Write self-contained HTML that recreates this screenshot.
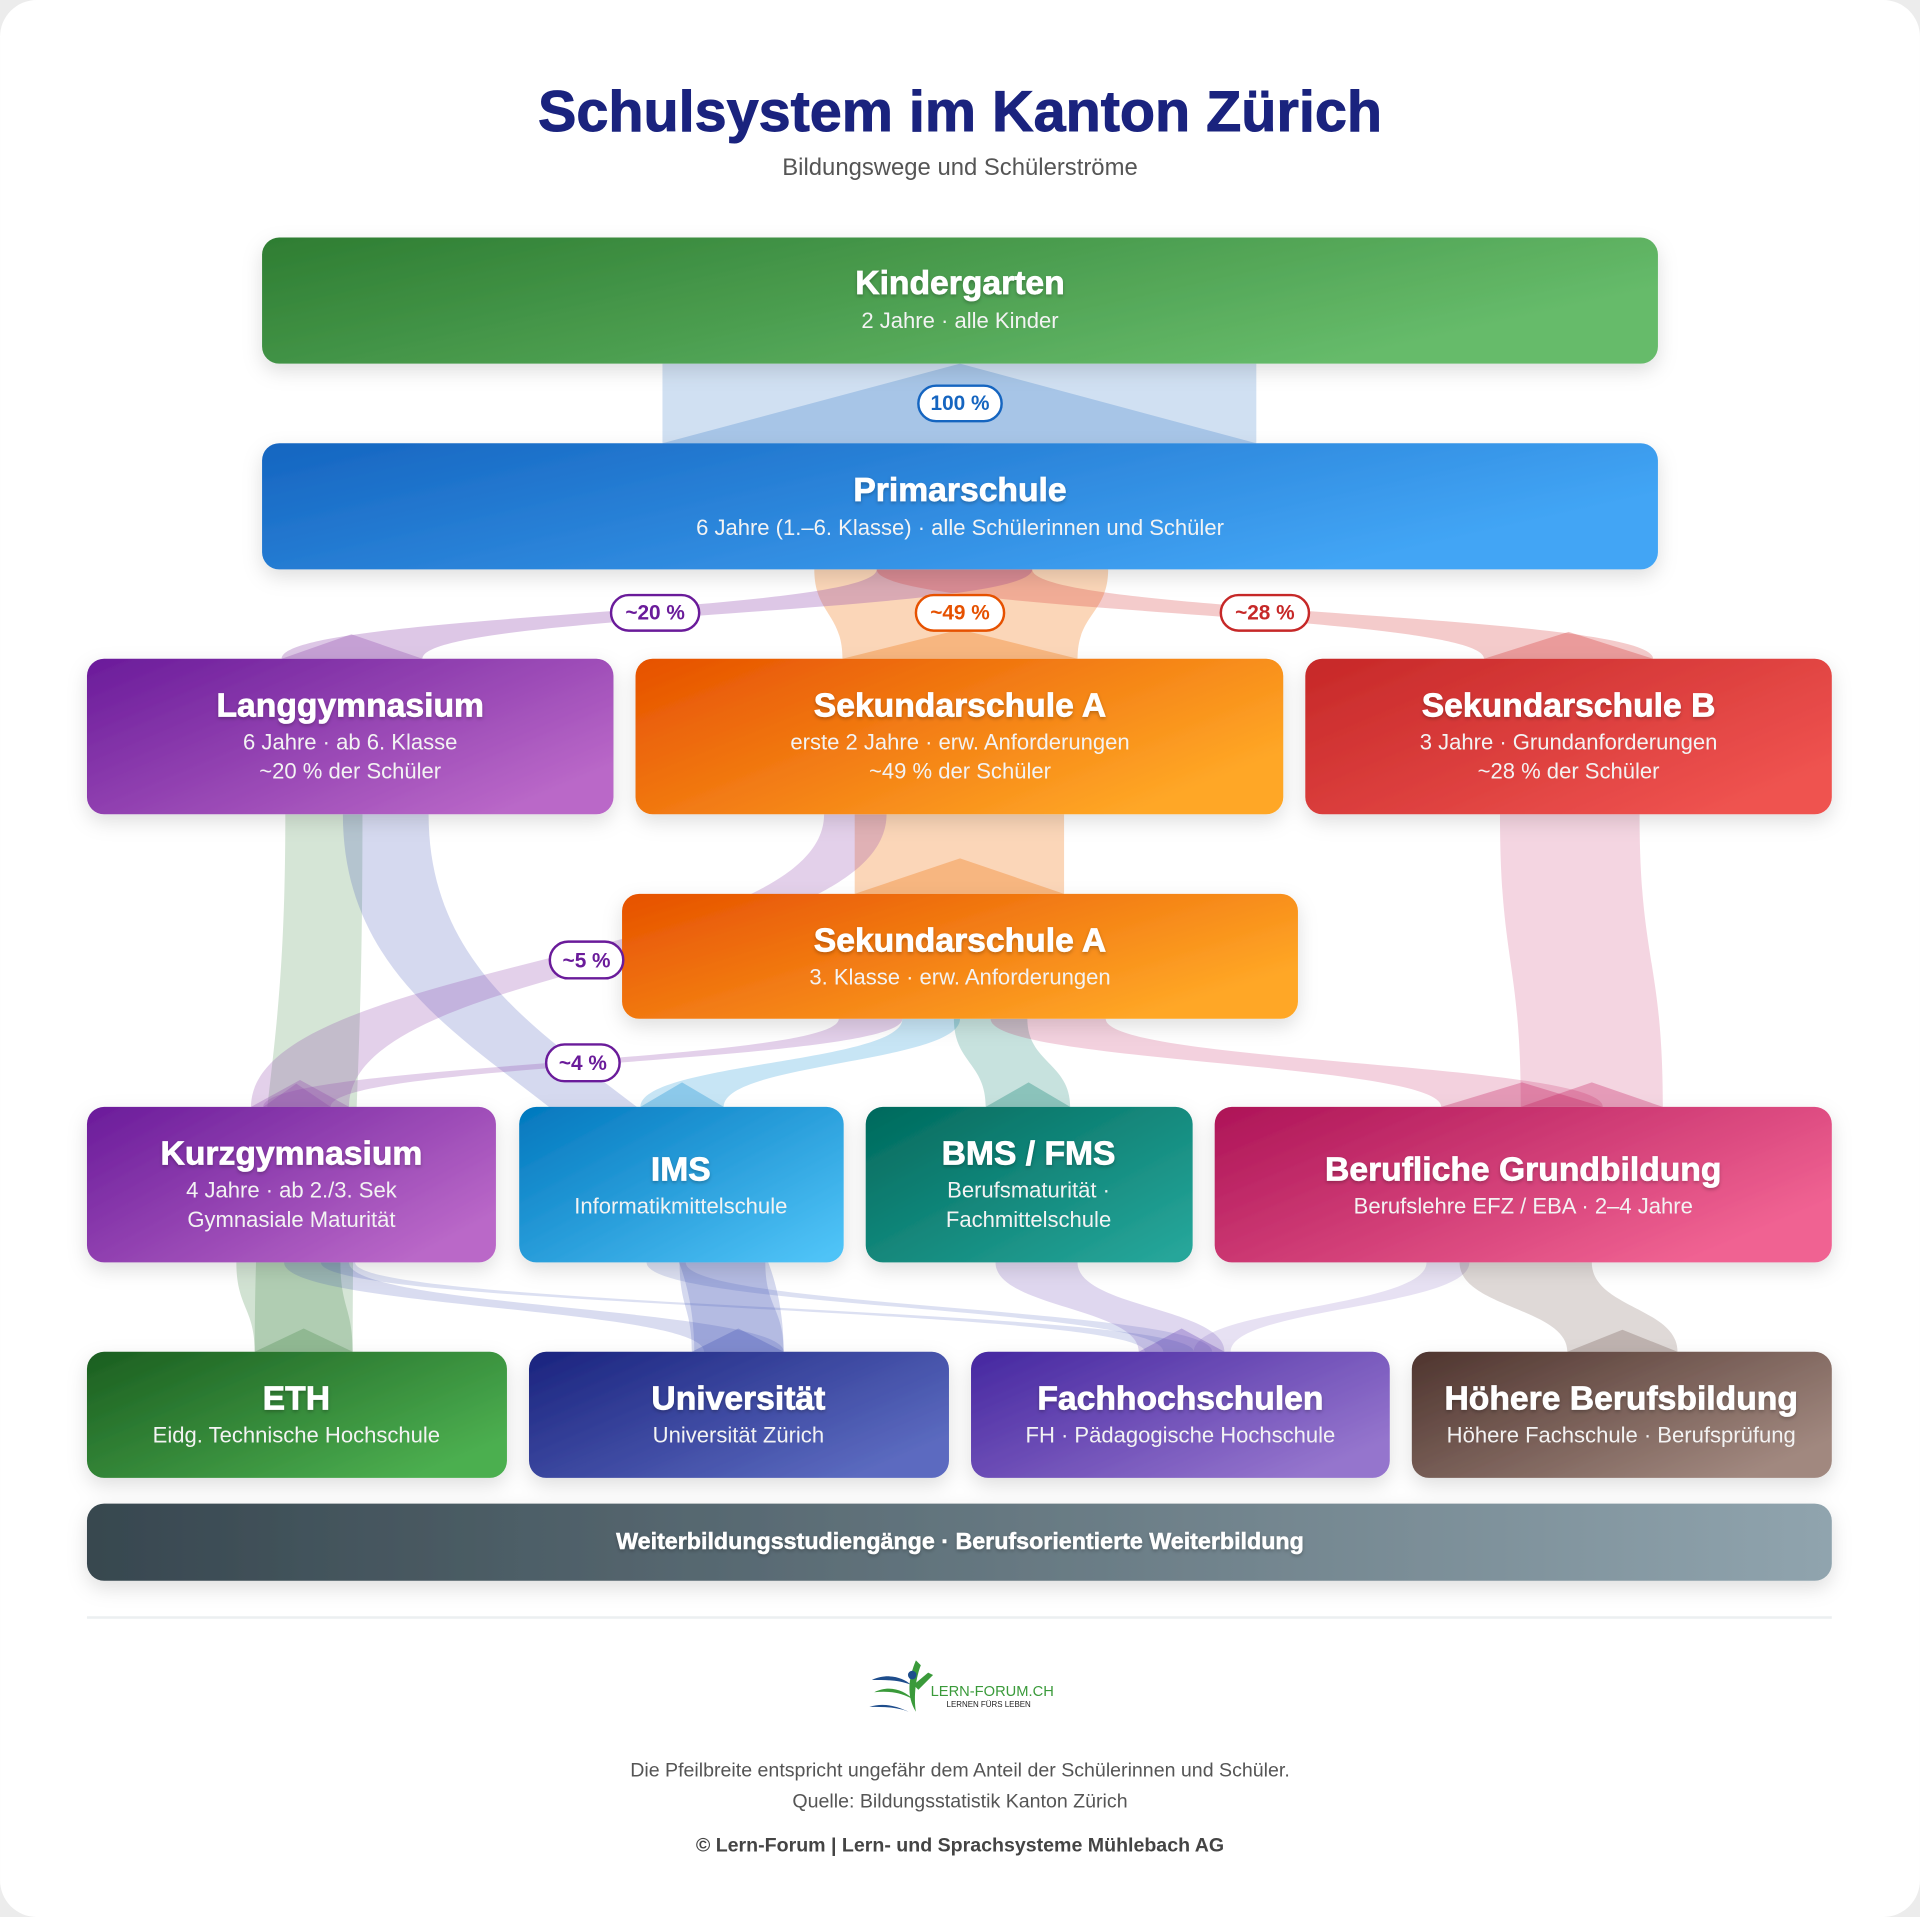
<!DOCTYPE html>
<html><head><meta charset="utf-8">
<style>
html,body{margin:0;padding:0;background:#ececec;}
svg{display:block;}
text{font-family:"Liberation Sans",sans-serif;}
</style></head>
<body>
<svg width="1920" height="1917" viewBox="0 0 1568 1565.6" xmlns="http://www.w3.org/2000/svg">
<defs>
<filter id="sh" x="-10%" y="-20%" width="120%" height="160%">
<feDropShadow dx="0" dy="6" stdDeviation="8" flood-color="#000" flood-opacity="0.13"/>
</filter>
<filter id="ts" x="-5%" y="-30%" width="110%" height="160%">
<feDropShadow dx="0" dy="1.5" stdDeviation="1.5" flood-color="#000" flood-opacity="0.25"/>
</filter>
<linearGradient id="gKG" x1="0" y1="0" x2="1" y2="0.4"><stop offset="0" stop-color="#2e7d32"/><stop offset="1" stop-color="#66bb6a"/></linearGradient>
<linearGradient id="gPR" x1="0" y1="0" x2="1" y2="0.4"><stop offset="0" stop-color="#1565c0"/><stop offset="1" stop-color="#42a5f5"/></linearGradient>
<linearGradient id="gLG" x1="0" y1="0" x2="1" y2="0.7"><stop offset="0" stop-color="#6a1b9a"/><stop offset="1" stop-color="#ba68c8"/></linearGradient>
<linearGradient id="gSA" x1="0" y1="0" x2="1" y2="0.6"><stop offset="0" stop-color="#e65100"/><stop offset="1" stop-color="#ffa726"/></linearGradient>
<linearGradient id="gSB" x1="0" y1="0" x2="1" y2="0.7"><stop offset="0" stop-color="#c62828"/><stop offset="1" stop-color="#ef5350"/></linearGradient>
<linearGradient id="gIMS" x1="0" y1="0" x2="1" y2="0.9"><stop offset="0" stop-color="#0277bd"/><stop offset="1" stop-color="#4fc3f7"/></linearGradient>
<linearGradient id="gBMS" x1="0" y1="0" x2="1" y2="0.9"><stop offset="0" stop-color="#00695c"/><stop offset="1" stop-color="#26a69a"/></linearGradient>
<linearGradient id="gBG" x1="0" y1="0" x2="1" y2="0.6"><stop offset="0" stop-color="#ad1457"/><stop offset="1" stop-color="#f06292"/></linearGradient>
<linearGradient id="gETH" x1="0" y1="0" x2="1" y2="0.7"><stop offset="0" stop-color="#1b5e20"/><stop offset="1" stop-color="#4caf50"/></linearGradient>
<linearGradient id="gUNI" x1="0" y1="0" x2="1" y2="0.7"><stop offset="0" stop-color="#1a237e"/><stop offset="1" stop-color="#5c6bc0"/></linearGradient>
<linearGradient id="gFH" x1="0" y1="0" x2="1" y2="0.7"><stop offset="0" stop-color="#4527a0"/><stop offset="1" stop-color="#9575cd"/></linearGradient>
<linearGradient id="gHB" x1="0" y1="0" x2="1" y2="0.7"><stop offset="0" stop-color="#4e342e"/><stop offset="1" stop-color="#a1887f"/></linearGradient>
<linearGradient id="gWB" x1="0" y1="0" x2="1" y2="0"><stop offset="0" stop-color="#37474f"/><stop offset="1" stop-color="#90a4ae"/></linearGradient>
</defs>

<rect x="0" y="0" width="1568" height="1565.6" rx="30" fill="#ffffff"/>

<text x="784" y="107" text-anchor="middle" font-size="47" font-weight="bold" fill="#1a237e" stroke="#1a237e" stroke-width="0.8">Schulsystem im Kanton Zürich</text>
<text x="784" y="143" text-anchor="middle" font-size="19.5" fill="#555">Bildungswege und Schülerströme</text>

<g id="flows">
<rect x="541" y="297" width="485" height="65" fill="#1565c0" opacity="0.2"/>
<polygon points="541,362 784,297 1026,362" fill="#1565c0" opacity="0.22"/>

<path d="M665,465 C665,501 688,501 688,538 L880,538 C880,501 905,501 905,465 Z" fill="#ef6c00" opacity="0.28"/>
<polygon points="688,538 784,514 880,538" fill="#ef6c00" opacity="0.3"/>
<path d="M716,465 C716,501 230,501 230,538 L345,538 C345,501 843,501 843,465 Z" fill="#8e44ad" opacity="0.3"/>
<polygon points="230,538 287,518 345,538" fill="#8e44ad" opacity="0.3"/>
<path d="M716,465 C716,501 1212,501 1212,538 L1350,538 C1350,501 843,501 843,465 Z" fill="#d32f2f" opacity="0.25"/>
<polygon points="1212,538 1281,516 1350,538" fill="#d32f2f" opacity="0.3"/>

<rect x="698" y="665" width="171" height="65" fill="#ef6c00" opacity="0.28"/>
<polygon points="698,730 784,701 869,730" fill="#ef6c00" opacity="0.3"/>

<path d="M233,665 C233,885 208,885 208,1104 L288,1104 C288,885 296,885 296,665 Z" fill="#2e7d32" opacity="0.2"/>
<path d="M280,665 C280,885 567,885 567,1104 L640,1104 C640,885 350,885 350,665 Z" fill="#3f51b5" opacity="0.22"/>
<path d="M673,665 C673,785 205,785 205,904 L285,904 C285,785 724,785 724,665 Z" fill="#8e44ad" opacity="0.25"/>
<polygon points="205,904 245,882 285,904" fill="#8e44ad" opacity="0.3"/>
<path d="M1225,665 C1225,785 1242,785 1242,904 L1358,904 C1358,785 1339,785 1339,665 Z" fill="#c2185b" opacity="0.18"/>
<polygon points="1242,904 1300,884 1358,904" fill="#c2185b" opacity="0.3"/>

<path d="M685,832 C685,868 215,868 215,904 L270,904 C270,868 737,868 737,832 Z" fill="#8e44ad" opacity="0.25"/>
<polygon points="215,904 242,885 270,904" fill="#8e44ad" opacity="0.3"/>
<path d="M737,832 C737,868 523,868 523,904 L591,904 C591,868 784,868 784,832 Z" fill="#0288d1" opacity="0.22"/>
<polygon points="523,904 557,884 591,904" fill="#0288d1" opacity="0.3"/>
<path d="M779,832 C779,868 805,868 805,904 L874,904 C874,868 839,868 839,832 Z" fill="#00796b" opacity="0.22"/>
<polygon points="805,904 840,884 874,904" fill="#00796b" opacity="0.3"/>
<path d="M809,832 C809,868 1177,868 1177,904 L1309,904 C1309,868 903,868 903,832 Z" fill="#c2185b" opacity="0.2"/>
<polygon points="1177,904 1243,884 1309,904" fill="#c2185b" opacity="0.3"/>

<path d="M193,1031 C193,1068 208,1068 208,1104 L288,1104 C288,1068 278,1068 278,1031 Z" fill="#2e7d32" opacity="0.22"/>
<polygon points="208,1104 248,1085 288,1104" fill="#2e7d32" opacity="0.25"/>
<path d="M232,1031 C232,1068 575,1068 575,1104 L640,1104 C640,1068 285,1068 285,1031 Z" fill="#3f51b5" opacity="0.2"/>
<path d="M262,1031 C262,1068 935,1068 935,1104 L975,1104 C975,1068 290,1068 290,1031 Z" fill="#3f51b5" opacity="0.18"/>
<path d="M555,1031 C555,1068 565,1068 565,1104 L640,1104 C640,1068 625,1068 625,1031 Z" fill="#3f51b5" opacity="0.22"/>
<polygon points="565,1104 603,1085 640,1104" fill="#3f51b5" opacity="0.3"/>
<path d="M528,1031 C528,1068 950,1068 950,1104 L990,1104 C990,1068 560,1068 560,1031 Z" fill="#3f51b5" opacity="0.18"/>
<path d="M813,1031 C813,1068 930,1068 930,1104 L1000,1104 C1000,1068 880,1068 880,1031 Z" fill="#5e35b1" opacity="0.2"/>
<path d="M1165,1031 C1165,1068 975,1068 975,1104 L1005,1104 C1005,1068 1200,1068 1200,1031 Z" fill="#5e35b1" opacity="0.15"/>
<polygon points="930,1104 965,1085 1000,1104" fill="#5e35b1" opacity="0.3"/>
<path d="M1192,1031 C1192,1068 1280,1068 1280,1104 L1370,1104 C1370,1068 1300,1068 1300,1031 Z" fill="#5d4037" opacity="0.2"/>
<polygon points="1280,1104 1325,1086 1370,1104" fill="#5d4037" opacity="0.25"/>
</g>

<g filter="url(#sh)">
<rect x="214" y="194" width="1140" height="103" rx="14" fill="url(#gKG)"/>
<rect x="214" y="362" width="1140" height="103" rx="14" fill="url(#gPR)"/>
<rect x="71" y="538" width="430" height="127" rx="14" fill="url(#gLG)"/>
<rect x="519" y="538" width="529" height="127" rx="14" fill="url(#gSA)"/>
<rect x="1066" y="538" width="430" height="127" rx="14" fill="url(#gSB)"/>
<rect x="508" y="730" width="552" height="102" rx="14" fill="url(#gSA)"/>
<rect x="71" y="904" width="334" height="127" rx="14" fill="url(#gLG)"/>
<rect x="424" y="904" width="265" height="127" rx="14" fill="url(#gIMS)"/>
<rect x="707" y="904" width="267" height="127" rx="14" fill="url(#gBMS)"/>
<rect x="992" y="904" width="504" height="127" rx="14" fill="url(#gBG)"/>
<rect x="71" y="1104" width="343" height="103" rx="14" fill="url(#gETH)"/>
<rect x="432" y="1104" width="343" height="103" rx="14" fill="url(#gUNI)"/>
<rect x="793" y="1104" width="342" height="103" rx="14" fill="url(#gFH)"/>
<rect x="1153" y="1104" width="343" height="103" rx="14" fill="url(#gHB)"/>
<rect x="71" y="1228" width="1425" height="63" rx="14" fill="url(#gWB)"/>
</g>

<g fill="#fff" text-anchor="middle">
<g font-size="27.5" font-weight="bold" stroke="#fff" stroke-width="0.6" filter="url(#ts)">
<text x="784" y="240">Kindergarten</text>
<text x="784" y="409">Primarschule</text>
<text x="286" y="585">Langgymnasium</text>
<text x="784" y="585">Sekundarschule A</text>
<text x="1281" y="585">Sekundarschule B</text>
<text x="784" y="777">Sekundarschule A</text>
<text x="238" y="951">Kurzgymnasium</text>
<text x="556" y="964">IMS</text>
<text x="840" y="951">BMS / FMS</text>
<text x="1244" y="964">Berufliche Grundbildung</text>
<text x="242" y="1151">ETH</text>
<text x="603" y="1151">Universität</text>
<text x="964" y="1151">Fachhochschulen</text>
<text x="1324" y="1151">Höhere Berufsbildung</text>
</g>
<g font-size="18" fill="#f3f3f3">
<text x="784" y="268">2 Jahre · alle Kinder</text>
<text x="784" y="437">6 Jahre (1.–6. Klasse) · alle Schülerinnen und Schüler</text>
<text x="286" y="612">6 Jahre · ab 6. Klasse</text>
<text x="286" y="636">~20 % der Schüler</text>
<text x="784" y="612">erste 2 Jahre · erw. Anforderungen</text>
<text x="784" y="636">~49 % der Schüler</text>
<text x="1281" y="612">3 Jahre · Grundanforderungen</text>
<text x="1281" y="636">~28 % der Schüler</text>
<text x="784" y="804">3. Klasse · erw. Anforderungen</text>
<text x="238" y="978">4 Jahre · ab 2./3. Sek</text>
<text x="238" y="1002">Gymnasiale Maturität</text>
<text x="556" y="991">Informatikmittelschule</text>
<text x="840" y="978">Berufsmaturität ·</text>
<text x="840" y="1002">Fachmittelschule</text>
<text x="1244" y="991">Berufslehre EFZ / EBA · 2–4 Jahre</text>
<text x="242" y="1178">Eidg. Technische Hochschule</text>
<text x="603" y="1178">Universität Zürich</text>
<text x="964" y="1178">FH · Pädagogische Hochschule</text>
<text x="1324" y="1178">Höhere Fachschule · Berufsprüfung</text>
</g>
<text x="784" y="1265" font-size="19" font-weight="bold" stroke="#fff" stroke-width="0.4" filter="url(#ts)">Weiterbildungsstudiengänge · Berufsorientierte Weiterbildung</text>
</g>

<g font-size="17" font-weight="bold" text-anchor="middle">
<rect x="750" y="315" width="68" height="29" rx="14.5" fill="#fff" stroke="#1565c0" stroke-width="2"/>
<text x="784" y="335" fill="#1565c0">100 %</text>
<rect x="499" y="486" width="72" height="29" rx="14.5" fill="#fff" stroke="#6a1b9a" stroke-width="2"/>
<text x="535" y="506" fill="#6a1b9a">~20 %</text>
<rect x="748" y="486" width="72" height="29" rx="14.5" fill="#fff" stroke="#e65100" stroke-width="2"/>
<text x="784" y="506" fill="#e65100">~49 %</text>
<rect x="997" y="486" width="72" height="29" rx="14.5" fill="#fff" stroke="#c62828" stroke-width="2"/>
<text x="1033" y="506" fill="#c62828">~28 %</text>
<rect x="449" y="769" width="60" height="30" rx="15" fill="#fff" stroke="#6a1b9a" stroke-width="2"/>
<text x="479" y="790" fill="#6a1b9a">~5 %</text>
<rect x="446" y="853" width="60" height="30" rx="15" fill="#fff" stroke="#6a1b9a" stroke-width="2"/>
<text x="476" y="874" fill="#6a1b9a">~4 %</text>
</g>

<line x1="71" y1="1321" x2="1496" y2="1321" stroke="#eceff1" stroke-width="2"/>

<g>
<path d="M712,1372 C725,1366 738,1370 744,1376 C734,1372 724,1372 712,1372 Z" fill="#1e4d8c"/>
<path d="M714,1382 C726,1376 738,1380 746,1388 C736,1382 726,1381 714,1382 Z" fill="#3a9a3a"/>
<path d="M710,1394 C722,1390 734,1394 742,1398 C732,1394 722,1394 710,1394 Z" fill="#1e4d8c"/>
<path d="M748,1356 C742,1370 740,1385 748,1398 C746,1385 748,1370 752,1360 Z" fill="#3a9a3a"/>
<path d="M746,1376 L758,1366 L762,1368 L750,1380 Z" fill="#3a9a3a"/>
<circle cx="745" cy="1368" r="3.5" fill="#1e4d8c"/>
<text x="760" y="1385" font-family="Liberation Serif,serif" font-size="12" fill="#3a9a3a">LERN-FORUM.CH</text>
<text x="773" y="1394" font-family="Liberation Serif,serif" font-size="6.5" fill="#222">LERNEN FÜRS LEBEN</text>
</g>

<g text-anchor="middle">
<text x="784" y="1451" font-size="16" fill="#555">Die Pfeilbreite entspricht ungefähr dem Anteil der Schülerinnen und Schüler.</text>
<text x="784" y="1476" font-size="16" fill="#555">Quelle: Bildungsstatistik Kanton Zürich</text>
<text x="784" y="1512" font-size="16" font-weight="bold" fill="#444">© Lern-Forum | Lern- und Sprachsysteme Mühlebach AG</text>
</g>
</svg>
</body></html>
